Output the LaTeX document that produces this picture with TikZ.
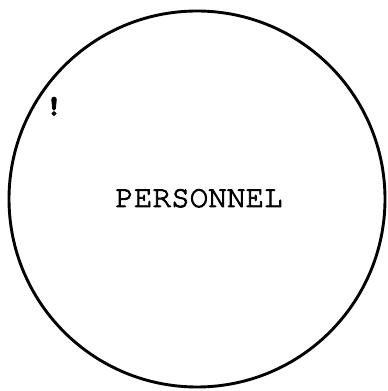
\documentclass[tikz,border=0pt]{standalone}
\newcommand{\courierfont}{\fontencoding{T1}\fontfamily{pcr}\selectfont}
\newcommand{\heavytext}[1]{\special{pdf:literal direct 2 Tr 0.8 w}#1\special{pdf:literal direct 0 Tr}}
\begin{document}
\begin{tikzpicture}[x=1pt,y=1pt,
  ring/.style={draw=black, line width=2.9pt, circle, minimum size=376pt, inner sep=0pt},
  typed/.style={font=\courierfont\fontsize{31}{31}\selectfont, inner sep=0pt, text=black}]
\useasboundingbox (0,0) rectangle (388,391);
\node[ring] (c) at (197,192) {};
\node[typed, anchor=base] (t) at (199,184) {\heavytext{PERSONNEL}};
\node[typed, anchor=base, font=\courierfont\bfseries\fontsize{28}{28}\selectfont] (m) at (54,276) {\heavytext{!}};
\end{tikzpicture}
\end{document}
